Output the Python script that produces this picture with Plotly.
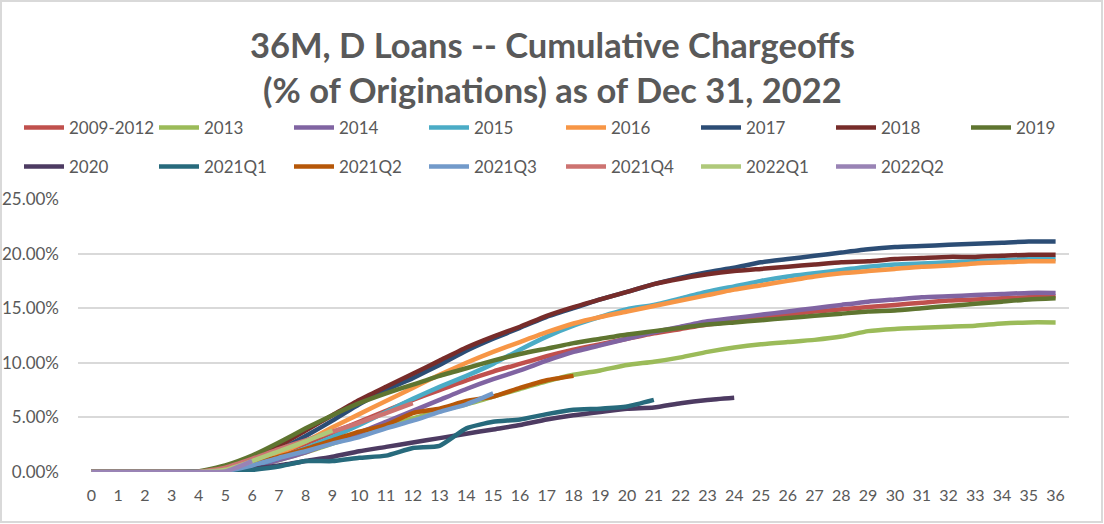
import plotly.graph_objects as go

months = [0, 1, 2, 3, 4, 5, 6, 7, 8, 9, 10, 11, 12, 13, 14, 15, 16, 17, 18,
          19, 20, 21, 22, 23, 24, 25, 26, 27, 28, 29, 30, 31, 32, 33, 34, 35, 36]

s_2009_2012 = [0, 0, 0, 0, 0.05, 0.3, 0.9, 1.7, 2.6, 3.6, 4.6, 5.6, 6.6, 7.5, 8.4, 9.2, 9.9, 10.6, 11.2,
               11.7, 12.2, 12.7, 13.1, 13.5, 13.8, 14.1, 14.4, 14.7, 14.9, 15.1, 15.3, 15.5, 15.7, 15.8, 15.9, 16.0, 16.1]
s_2013 = [0, 0, 0, 0, 0, 0.1, 0.5, 1.1, 1.8, 2.6, 3.4, 4.2, 4.9, 5.6, 6.2, 6.9, 7.6, 8.3, 8.9,
          9.3, 9.8, 10.1, 10.5, 11.0, 11.4, 11.7, 11.9, 12.1, 12.4, 12.9, 13.1, 13.2, 13.3, 13.4, 13.6, 13.7, 13.7]
s_2014 = [0, 0, 0, 0, 0, 0.1, 0.5, 1.1, 1.8, 2.7, 3.6, 4.6, 5.6, 6.6, 7.6, 8.5, 9.3, 10.2, 11.0,
          11.6, 12.2, 12.8, 13.3, 13.8, 14.1, 14.4, 14.7, 15.0, 15.3, 15.6, 15.8, 16.0, 16.1, 16.2, 16.3, 16.4, 16.4]
s_2015 = [0, 0, 0, 0, 0, 0.2, 0.6, 1.3, 2.2, 3.2, 4.3, 5.5, 6.7, 7.8, 8.8, 9.9, 11.2, 12.4, 13.4,
          14.2, 14.9, 15.3, 15.9, 16.5, 17.0, 17.5, 17.9, 18.2, 18.5, 18.8, 19.0, 19.1, 19.2, 19.3, 19.4, 19.5, 19.5]
s_2016 = [0, 0, 0, 0, 0, 0.3, 0.8, 1.7, 2.8, 4.1, 5.3, 6.5, 7.7, 8.9, 10.0, 11.0, 11.9, 12.8, 13.6,
          14.2, 14.7, 15.2, 15.7, 16.2, 16.7, 17.1, 17.5, 17.9, 18.2, 18.4, 18.6, 18.8, 18.9, 19.1, 19.2, 19.3, 19.3]
s_2017 = [0, 0, 0, 0, 0, 0.3, 1.0, 2.0, 3.3, 4.7, 6.2, 7.5, 8.6, 9.8, 11.1, 12.2, 13.2, 14.2, 15.0,
          15.8, 16.5, 17.2, 17.8, 18.3, 18.7, 19.2, 19.5, 19.8, 20.1, 20.4, 20.6, 20.7, 20.8, 20.9, 21.0, 21.1, 21.1]
s_2018 = [0, 0, 0, 0, 0, 0.5, 1.3, 2.4, 3.8, 5.2, 6.6, 7.8, 9.0, 10.2, 11.4, 12.4, 13.3, 14.3, 15.1,
          15.8, 16.5, 17.2, 17.7, 18.1, 18.4, 18.6, 18.8, 19.0, 19.2, 19.3, 19.5, 19.6, 19.7, 19.7, 19.8, 19.9, 19.9]
s_2019 = [0, 0, 0, 0, 0.05, 0.6, 1.5, 2.7, 4.0, 5.2, 6.3, 7.2, 8.0, 8.8, 9.5, 10.2, 10.8, 11.3, 11.8,
          12.2, 12.6, 12.9, 13.2, 13.5, 13.7, 13.9, 14.1, 14.3, 14.5, 14.7, 14.8, 15.0, 15.2, 15.4, 15.6, 15.8, 15.9]
s_2020 = [0, 0, 0, 0, 0.05, 0.1, 0.3, 0.6, 1.0, 1.4, 1.9, 2.3, 2.7, 3.1, 3.5, 3.9, 4.3, 4.8, 5.2,
          5.5, 5.8, 5.9, 6.3, 6.6, 6.8]
s_2021q1 = [0, 0, 0, 0, 0, 0, 0.2, 0.5, 1.0, 1.0, 1.3, 1.5, 2.2, 2.4, 4.0, 4.6, 4.8, 5.3, 5.7,
            5.8, 6.0, 6.6]
s_2021q2 = [0, 0, 0, 0, 0, 0.2, 0.7, 1.4, 2.1, 2.9, 3.7, 4.3, 5.4, 5.8, 6.5, 6.9, 7.7, 8.4, 8.8]
s_2021q3 = [0, 0, 0, 0, 0, 0.1, 0.6, 1.3, 1.9, 2.6, 3.2, 4.0, 4.7, 5.5, 6.2, 7.2]
s_2021q4 = [0, 0, 0, 0, 0, 0.4, 1.2, 2.1, 2.9, 3.7, 4.5, 5.4, 6.3]
s_2022q1 = [0, 0, 0, 0, 0, 0.2, 1.0, 1.9, 2.8, 3.8]
s_2022q2 = [0, 0, 0, 0, 0, 0.05, 1.0]

y_ticks = [0, 5, 10, 15, 20, 25]
y_tick_text = ["0.00%", "5.00%", "10.00%", "15.00%", "20.00%", "25.00%"]

# (legend id, [(name, values, colour), ...])
groups = [
    ("legend", [("2009-2012", s_2009_2012, "#C0504D"),
                ("2013", s_2013, "#9BBB59"),
                ("2014", s_2014, "#8064A2"),
                ("2015", s_2015, "#4BACC6")]),
    ("legend3", [("2016", s_2016, "#F79646"),
                 ("2017", s_2017, "#2C4D75"),
                 ("2018", s_2018, "#772C2A"),
                 ("2019", s_2019, "#5F7530")]),
    ("legend2", [("2020", s_2020, "#4D3B62"),
                 ("2021Q1", s_2021q1, "#276A7C"),
                 ("2021Q2", s_2021q2, "#B65708"),
                 ("2021Q3", s_2021q3, "#729ACA")]),
    ("legend4", [("2021Q4", s_2021q4, "#CD7371"),
                 ("2022Q1", s_2022q1, "#AFC97A"),
                 ("2022Q2", s_2022q2, "#9983B5")]),
]

FONT = "Lato"
GRAY = "#595959"

fig = go.Figure()
for leg, rows in groups:
    for name, vals, col in rows:
        fig.add_trace(go.Scatter(
            x=months[:len(vals)], y=vals, name=name, mode="lines",
            line=dict(color=col, width=4.5, shape="spline", smoothing=0.5),
            legend=leg, hoverinfo="x+y+name"))

W, H = 1104, 524
ml, mr, mt, mb = 78, 35, 199, 52
pw, ph = W - ml - mr, H - mt - mb


def px_x(px):
    return (px - ml) / pw


def px_y(py):
    return (H - mb - py) / ph


legend_common = dict(orientation="h", xanchor="left", yanchor="middle",
                     entrywidth=80, entrywidthmode="pixels",
                     font=dict(family=FONT, size=17, color=GRAY),
                     bgcolor="rgba(0,0,0,0)", itemwidth=40)

fig.update_layout(
    width=W, height=H,
    margin=dict(l=ml, r=mr, t=mt, b=mb, autoexpand=False),
    paper_bgcolor="white", plot_bgcolor="white",
    legend=dict(x=px_x(19), y=px_y(128), **legend_common),
    legend3=dict(x=px_x(561), y=px_y(128), **legend_common),
    legend2=dict(x=px_x(19), y=px_y(167), **legend_common),
    legend4=dict(x=px_x(561), y=px_y(167), **legend_common),
    xaxis=dict(range=[-0.5, 36.5], tickmode="array", tickvals=months,
               ticktext=[str(m) for m in months], showgrid=False, zeroline=False,
               showline=False, ticks="", ticklabelstandoff=12,
               tickfont=dict(family=FONT, size=16, color=GRAY)),
    yaxis=dict(range=[0, 25], tickmode="array", tickvals=y_ticks,
               ticktext=y_tick_text, showgrid=True,
               gridcolor="#D9D9D9", gridwidth=2, zeroline=False, showline=False,
               ticks="", ticklabelstandoff=18,
               tickfont=dict(family=FONT, size=17, color=GRAY)),
    showlegend=True,
)

fig.add_annotation(
    text="36M, D Loans -- Cumulative Chargeoffs<br>(% of Originations) as of Dec 31, 2022",
    xref="paper", yref="paper", x=px_x(552), y=px_y(66.5),
    xanchor="center", yanchor="middle", showarrow=False,
    font=dict(family=FONT, size=34.5, color=GRAY, weight="bold"))

fig.add_shape(type="rect", xref="paper", yref="paper",
              x0=px_x(1), x1=px_x(W - 2),
              y0=px_y(H - 2), y1=px_y(1),
              line=dict(color="#D9D9D9", width=2), fillcolor="rgba(0,0,0,0)",
              layer="above")

fig.write_html("out.html", config={"displayModeBar": False},
               post_script="document.body.style.margin='0';")
